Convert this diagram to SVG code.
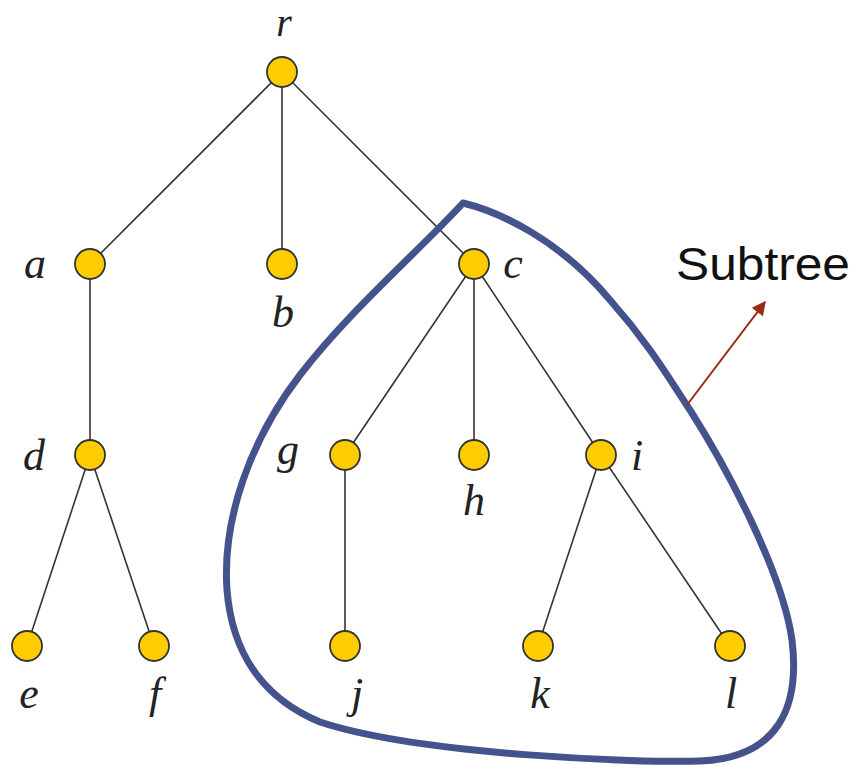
<svg xmlns="http://www.w3.org/2000/svg" width="859" height="776" viewBox="0 0 859 776">
<defs>
<style>
.edge{stroke:#333;stroke-width:1.6;fill:none}
.node{fill:#ffcc00;stroke:#333;stroke-width:1.8}
.lbl{font-family:"Liberation Serif","DejaVu Serif",serif;font-style:italic;font-size:44px;fill:#222;text-anchor:middle}
</style>
<marker id="arr" viewBox="0 0 10 10" refX="9" refY="5" markerWidth="8" markerHeight="7" orient="auto" markerUnits="strokeWidth">
<path d="M0,0 L10,5 L0,10 Z" fill="#9b2a12"/>
</marker>
</defs>
<rect width="859" height="776" fill="#fff"/>
<g id="connectors">
<line class="edge" x1="282" y1="72" x2="90" y2="264"/>
<line class="edge" x1="282" y1="72" x2="282" y2="264"/>
<line class="edge" x1="282" y1="72" x2="474" y2="264"/>
<line class="edge" x1="90" y1="264" x2="90" y2="455"/>
<line class="edge" x1="90" y1="455" x2="27" y2="646"/>
<line class="edge" x1="90" y1="455" x2="154" y2="646"/>
<line class="edge" x1="474" y1="264" x2="345" y2="455"/>
<line class="edge" x1="474" y1="264" x2="474" y2="455"/>
<line class="edge" x1="474" y1="264" x2="601" y2="455"/>
<line class="edge" x1="345" y1="455" x2="345" y2="646"/>
<line class="edge" x1="601" y1="455" x2="538" y2="646"/>
<line class="edge" x1="601" y1="455" x2="730" y2="646"/>
</g>
<g id="subtree-outline">
<path d="M 463 203 C 500 212, 560 240, 610 300 C 650 345, 670 380, 690 410 C 725 465, 782 570, 792 640 C 800 705, 780 758, 700 761 C 640 763, 420 755, 320 722 C 262 698, 232 652, 227 590 C 222 520, 250 440, 300 375 C 350 310, 420 250, 463 203 Z" fill="none" stroke="#45538c" stroke-width="7" stroke-linejoin="round"/>
</g>
<g id="subtree-label">
<line x1="687" y1="405" x2="765" y2="302" stroke="#9b2a12" stroke-width="2" marker-end="url(#arr)"/>
<text x="676" y="280" font-family="'Liberation Sans','DejaVu Sans',sans-serif" font-size="46" fill="#111" textLength="174" lengthAdjust="spacingAndGlyphs">Subtree</text>
</g>
<g id="node-r"><circle class="node" cx="282" cy="72" r="15"/><text class="lbl" x="284" y="36" style="font-size:40px">r</text></g>
<g id="node-a"><circle class="node" cx="90" cy="264" r="15"/><text class="lbl" x="35" y="278">a</text></g>
<g id="node-b"><circle class="node" cx="282" cy="264" r="15"/><text class="lbl" x="283" y="327">b</text></g>
<g id="node-c"><circle class="node" cx="474" cy="264" r="15"/><text class="lbl" x="513" y="278">c</text></g>
<g id="node-d"><circle class="node" cx="90" cy="455" r="15"/><text class="lbl" x="34" y="470">d</text></g>
<g id="node-g"><circle class="node" cx="345" cy="455" r="15"/><text class="lbl" x="288" y="464">g</text></g>
<g id="node-h"><circle class="node" cx="474" cy="455" r="15"/><text class="lbl" x="474" y="515">h</text></g>
<g id="node-i"><circle class="node" cx="601" cy="455" r="15"/><text class="lbl" x="637" y="470">i</text></g>
<g id="node-e"><circle class="node" cx="27" cy="646" r="15"/><text class="lbl" x="29" y="708">e</text></g>
<g id="node-f"><circle class="node" cx="154" cy="646" r="15"/><text class="lbl" x="155" y="708">f</text></g>
<g id="node-j"><circle class="node" cx="345" cy="646" r="15"/><text class="lbl" x="357" y="708">j</text></g>
<g id="node-k"><circle class="node" cx="538" cy="646" r="15"/><text class="lbl" x="540" y="708">k</text></g>
<g id="node-l"><circle class="node" cx="730" cy="646" r="15"/><text class="lbl" x="731" y="708">l</text></g>
</svg>
